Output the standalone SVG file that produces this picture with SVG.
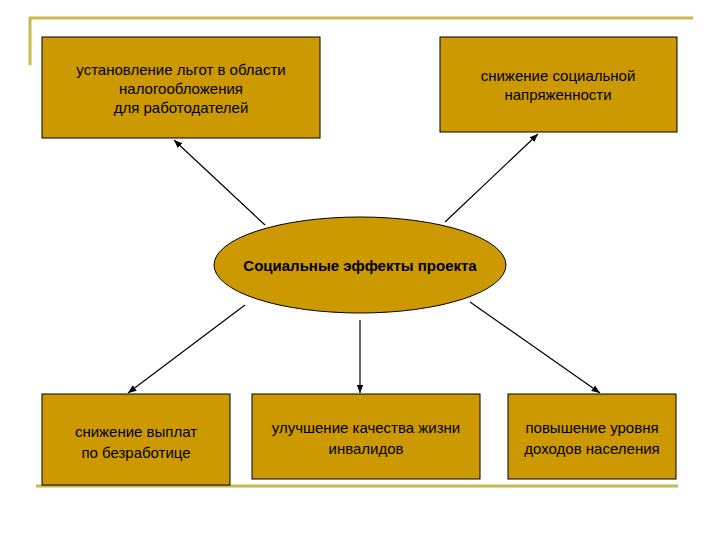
<svg xmlns="http://www.w3.org/2000/svg" width="720" height="540" viewBox="0 0 720 540">
<style>
.b{fill:#cc9900;stroke:#000;stroke-width:1}
.t{font-family:"Liberation Sans",Arial,sans-serif;font-size:15px;fill:#000;text-anchor:middle}
.c line{stroke:#000;stroke-width:1.2;marker-end:url(#a)}
</style>
<defs><marker id="a" viewBox="0 0 10 10" refX="10" refY="5" markerWidth="7" markerHeight="7" orient="auto"><path d="M0,1 L10,5 L0,9 z" fill="#000"/></marker></defs>
<rect width="720" height="540" fill="#fff"/>
<g stroke="#c8b850" stroke-width="3" fill="none">
<polyline points="30,65 30,18 693,18"/>
<line x1="36" y1="486" x2="678" y2="486"/>
</g>
<g class="c">
<line x1="265" y1="225" x2="174" y2="140"/>
<line x1="445" y1="222" x2="538" y2="134"/>
<line x1="245" y1="305" x2="128" y2="393"/>
<line x1="360" y1="320" x2="360" y2="393"/>
<line x1="470" y1="302" x2="600" y2="393"/>
</g>
<g id="n1"><rect class="b" x="42" y="37" width="278" height="101"/>
<text class="t" x="181" y="75">установление льгот в области</text>
<text class="t" x="181" y="94">налогообложения</text>
<text class="t" x="181" y="113">для работодателей</text></g>
<g id="n2"><rect class="b" x="440" y="37" width="237" height="95"/>
<text class="t" x="558" y="81">снижение социальной</text>
<text class="t" x="558" y="100">напряженности</text></g>
<g id="n3"><ellipse class="b" cx="360" cy="265" rx="146" ry="48"/>
<text class="t" x="360" y="271" font-weight="bold">Социальные эффекты проекта</text></g>
<g id="n4"><rect class="b" x="42" y="394" width="188" height="91"/>
<text class="t" x="136" y="437">снижение выплат</text>
<text class="t" x="136" y="458">по безработице</text></g>
<g id="n5"><rect class="b" x="252" y="394" width="228" height="85"/>
<text class="t" x="366" y="433">улучшение качества жизни</text>
<text class="t" x="366" y="454">инвалидов</text></g>
<g id="n6"><rect class="b" x="508" y="394" width="168" height="85"/>
<text class="t" x="592" y="433">повышение уровня</text>
<text class="t" x="592" y="454">доходов населения</text></g>
</svg>
